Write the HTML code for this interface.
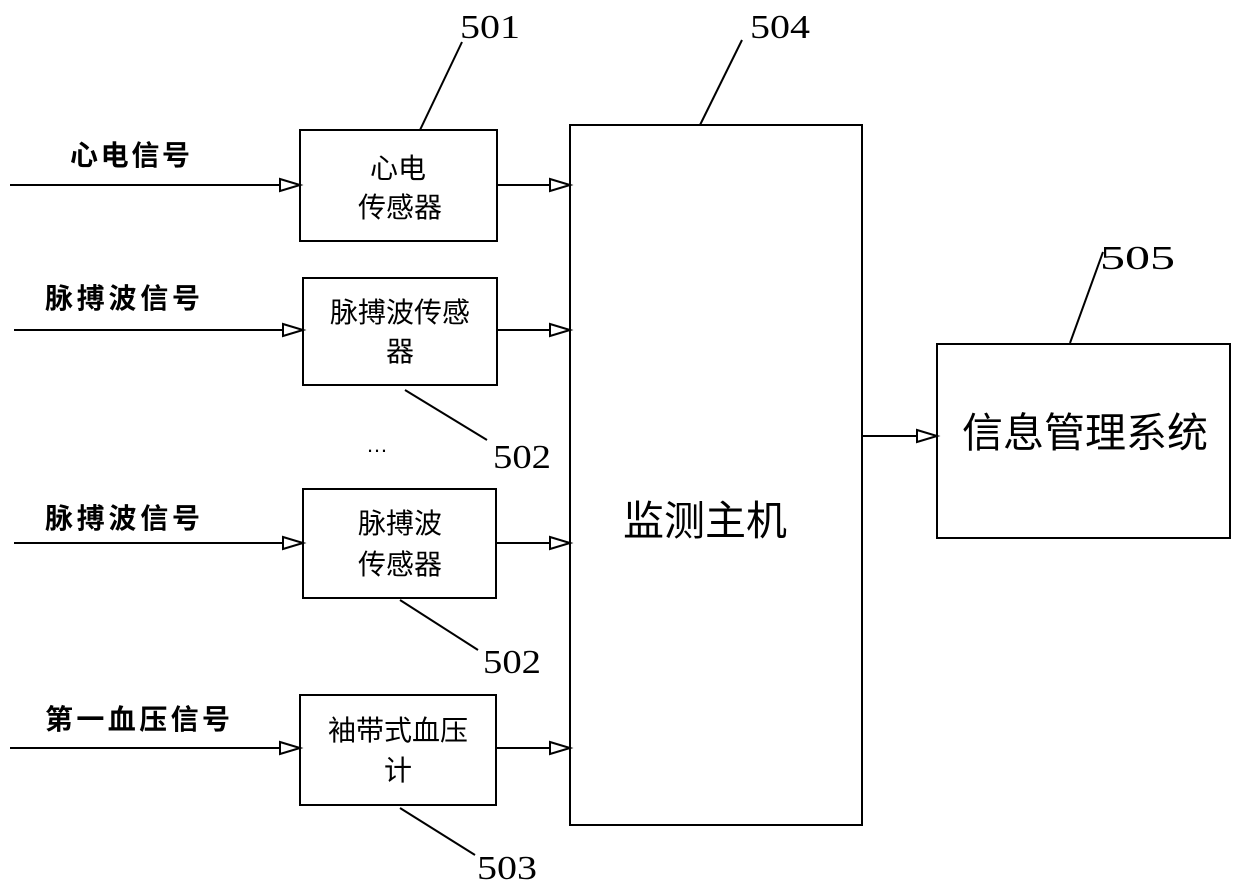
<!DOCTYPE html>
<html><head><meta charset="utf-8"><style>
body{margin:0;background:#fff}
svg text{font-family:"Liberation Sans","Noto Sans CJK SC",sans-serif;fill:#000}
.s{font-family:"Liberation Serif","Noto Serif CJK SC",serif !important}
</style></head><body>
<svg width="1240" height="889" viewBox="0 0 1240 889" xmlns="http://www.w3.org/2000/svg">
<g fill="none" stroke="#000" stroke-width="2">
<rect x="300" y="130" width="197" height="111"/>
<rect x="303" y="278" width="194" height="107"/>
<rect x="303" y="489" width="193" height="109"/>
<rect x="300" y="695" width="196" height="110"/>
<rect x="570" y="125" width="292" height="700"/>
<rect x="937" y="344" width="293" height="194"/>
<line x1="10" y1="185" x2="280" y2="185"/>
<line x1="497" y1="185" x2="550" y2="185"/>
<line x1="14" y1="330" x2="283" y2="330"/>
<line x1="497" y1="330" x2="550" y2="330"/>
<line x1="14" y1="543" x2="283" y2="543"/>
<line x1="496" y1="543" x2="550" y2="543"/>
<line x1="10" y1="748" x2="280" y2="748"/>
<line x1="496" y1="748" x2="550" y2="748"/>
<line x1="862" y1="436" x2="917" y2="436"/>
<path d="M280,179 L300,185 L280,191 Z"/>
<path d="M550,179 L570,185 L550,191 Z"/>
<path d="M283,324 L303,330 L283,336 Z"/>
<path d="M550,324 L570,330 L550,336 Z"/>
<path d="M283,537 L303,543 L283,549 Z"/>
<path d="M550,537 L570,543 L550,549 Z"/>
<path d="M280,742 L300,748 L280,754 Z"/>
<path d="M550,742 L570,748 L550,754 Z"/>
<path d="M917,430 L937,436 L917,442 Z"/>
<line x1="420" y1="130" x2="462" y2="42"/>
<line x1="700" y1="125" x2="742" y2="40"/>
<line x1="1070" y1="343" x2="1103" y2="252"/>
<line x1="405" y1="390" x2="487" y2="440"/>
<line x1="400" y1="600" x2="478" y2="650"/>
<line x1="400" y1="808" x2="475" y2="855"/>
</g>
<g font-size="28" font-weight="bold">
<text x="70" y="165" textLength="120">心电信号</text>
<text x="45" y="308" textLength="155">脉搏波信号</text>
<text x="45" y="528" textLength="155">脉搏波信号</text>
<text x="45" y="729" textLength="185">第一血压信号</text>
</g>
<g font-size="28" text-anchor="middle">
<text x="398" y="178">心电</text>
<text x="400" y="217">传感器</text>
<text x="400" y="322">脉搏波传感</text>
<text x="400" y="361">器</text>
<text x="400" y="533">脉搏波</text>
<text x="400" y="574">传感器</text>
<text x="398" y="740">袖带式血压</text>
<text x="398" y="780">计</text>
<text x="705" y="535" font-size="41">监测主机</text>
<text x="1085" y="447" font-size="41">信息管理系统</text>
</g>
<g font-size="34">
<text class="s" x="460" y="38" textLength="60" lengthAdjust="spacingAndGlyphs">501</text>
<text class="s" x="750" y="38" textLength="60" lengthAdjust="spacingAndGlyphs">504</text>
<text class="s" x="1100" y="269" textLength="75" lengthAdjust="spacingAndGlyphs">505</text>
<text class="s" x="493" y="468" textLength="58" lengthAdjust="spacingAndGlyphs">502</text>
<text class="s" x="483" y="673" textLength="58" lengthAdjust="spacingAndGlyphs">502</text>
<text class="s" x="477" y="879" textLength="60" lengthAdjust="spacingAndGlyphs">503</text>
</g>
<text x="366" y="452" font-size="22">…</text>
</svg>
</body></html>
